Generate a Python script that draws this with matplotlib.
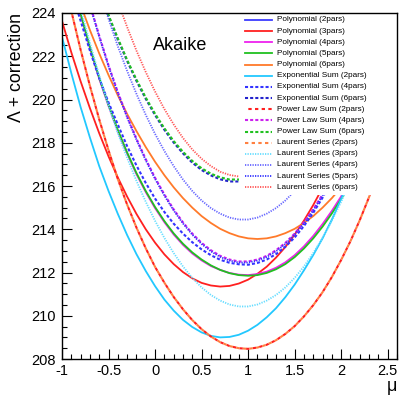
#!/usr/bin/env python3
# Akaike-corrected likelihood scan vs. signal strength mu for each background
# function family, drawn in the usual ROOT look (inward ticks, boxed legend).
import matplotlib
matplotlib.use("Agg")
import matplotlib.pyplot as plt  # noqa: E402
from matplotlib.patches import Rectangle  # noqa: E402
from matplotlib.ticker import MultipleLocator, FuncFormatter  # noqa: E402

plt.rcParams["font.family"] = ["Liberation Sans", "DejaVu Sans"]
plt.rcParams["lines.scale_dashes"] = False

# scan points (mu) shared by every curve
MU = [-1.0, -0.9, -0.8, -0.7, -0.6, -0.5, -0.4, -0.3, -0.2, -0.1,
      0.0, 0.1, 0.2, 0.3, 0.4, 0.5, 0.6, 0.7, 0.8, 0.9,
      1.0, 1.1, 1.2, 1.3, 1.4, 1.5, 1.6, 1.7, 1.8, 1.9,
      2.0, 2.1, 2.2, 2.3, 2.4]

# Lambda + correction per function family
poly3 = [223.63, 222.18, 220.84, 219.60, 218.44, 217.37, 216.39, 215.51, 214.71, 214.00,
         213.38, 212.84, 212.39, 212.02, 211.73, 211.52, 211.40, 211.35, 211.38, 211.49,
         211.67, 211.94, 212.27, 212.69, 213.18, 213.75, 214.40, 215.12, 215.92, 216.80,
         217.76, 218.79, 219.90, 221.08, 222.35]
poly4 = [227.00, 225.41, 223.92, 222.38, 220.96, 219.70, 218.54, 217.50, 216.55, 215.72,
         214.98, 214.33, 213.76, 213.28, 212.88, 212.56, 212.30, 212.12, 211.98, 211.90,
         211.88, 211.93, 212.04, 212.22, 212.47, 212.80, 213.21, 213.69, 214.24, 214.85,
         215.52, 216.30, 217.15, 218.05, 219.03]
poly5 = [227.05, 225.46, 223.97, 222.43, 221.01, 219.75, 218.59, 217.55, 216.60, 215.77,
         215.03, 214.38, 213.81, 213.33, 212.93, 212.60, 212.33, 212.12, 211.97, 211.88,
         211.85, 211.88, 211.98, 212.15, 212.39, 212.71, 213.11, 213.58, 214.12, 214.73,
         215.40, 216.18, 217.03, 217.93, 218.91]
poly6 = [226.78, 225.55, 224.38, 223.21, 222.13, 221.13, 220.19, 219.33, 218.54, 217.80,
         217.12, 216.50, 215.94, 215.44, 215.00, 214.61, 214.29, 214.02, 213.82, 213.67,
         213.58, 213.55, 213.58, 213.67, 213.82, 214.02, 214.29, 214.61, 215.00, 215.44,
         215.94, 216.50, 217.12, 217.80, 218.54]
exp2 = [222.90, 221.22, 219.65, 218.24, 216.92, 215.77, 214.71, 213.73, 212.85, 212.07,
        211.37, 210.75, 210.24, 209.81, 209.48, 209.23, 209.07, 209.00, 209.02, 209.12,
        209.31, 209.58, 209.93, 210.35, 210.86, 211.44, 212.10, 212.81, 213.58, 214.45,
        215.40, 216.47, 217.60, 218.76, 220.00]
exp4 = [226.53, 225.02, 223.64, 222.26, 220.99, 219.86, 218.84, 217.84, 216.95, 216.14,
        215.42, 214.80, 214.26, 213.80, 213.40, 213.07, 212.80, 212.59, 212.45, 212.38,
        212.36, 212.44, 212.60, 212.85, 213.19, 213.62, 214.15, 214.76, 215.46, 216.25,
        217.13, 218.11, 219.17, 220.32, 221.56]
exp6 = [230.50, 229.01, 227.60, 226.28, 225.03, 223.86, 222.78, 221.78, 220.86, 220.03,
        219.28, 218.60, 218.01, 217.51, 217.08, 216.74, 216.49, 216.31, 216.21, 216.21,
        216.28, 216.44, 216.68, 217.00, 217.40, 217.89, 218.46, 219.11, 219.84, 220.66,
        221.55, 222.53, 223.60, 224.74, 225.97]
pow2 = [226.00, 224.09, 222.30, 220.63, 219.08, 217.65, 216.32, 215.14, 214.08, 213.12,
        212.26, 211.53, 210.87, 210.30, 209.80, 209.38, 209.04, 208.78, 208.60, 208.50,
        208.47, 208.53, 208.66, 208.87, 209.16, 209.52, 209.97, 210.49, 211.09, 211.79,
        212.58, 213.45, 214.42, 215.49, 216.64]
pow4 = [229.23, 227.56, 225.98, 224.40, 222.95, 221.58, 220.34, 219.22, 218.19, 217.24,
        216.38, 215.61, 214.92, 214.32, 213.80, 213.37, 213.03, 212.77, 212.60, 212.51,
        212.51, 212.60, 212.77, 213.03, 213.37, 213.80, 214.32, 214.92, 215.61, 216.38,
        217.24, 218.19, 219.22, 220.34, 221.58]
pow6 = [230.54, 229.05, 227.64, 226.32, 225.07, 223.91, 222.83, 221.83, 220.92, 220.09,
        219.34, 218.67, 218.08, 217.58, 217.16, 216.82, 216.57, 216.40, 216.30, 216.30,
        216.37, 216.53, 216.77, 217.09, 217.49, 217.98, 218.55, 219.20, 219.93, 220.75,
        221.64, 222.62, 223.69, 224.83, 226.06]
laur2 = [226.00, 224.09, 222.30, 220.63, 219.08, 217.65, 216.32, 215.14, 214.08, 213.12,
         212.26, 211.53, 210.87, 210.30, 209.80, 209.38, 209.04, 208.78, 208.60, 208.50,
         208.47, 208.53, 208.66, 208.87, 209.16, 209.52, 209.97, 210.49, 211.09, 211.79,
         212.58, 213.45, 214.42, 215.49, 216.64]
laur3 = [227.91, 225.99, 224.20, 222.62, 221.11, 219.71, 218.44, 217.30, 216.24, 215.27,
         214.39, 213.60, 212.90, 212.28, 211.75, 211.31, 210.96, 210.70, 210.52, 210.43,
         210.43, 210.52, 210.70, 210.96, 211.31, 211.75, 212.28, 212.90, 213.60, 214.39,
         215.27, 216.24, 217.30, 218.44, 219.71]
laur4 = [231.55, 229.84, 228.22, 226.61, 225.13, 223.73, 222.46, 221.32, 220.26, 219.29,
         218.41, 217.62, 216.92, 216.30, 215.77, 215.33, 214.98, 214.72, 214.54, 214.45,
         214.45, 214.54, 214.72, 214.98, 215.33, 215.77, 216.30, 216.92, 217.62, 218.41,
         219.29, 220.26, 221.32, 222.46, 223.73]
laur5 = [229.18, 227.51, 225.93, 224.35, 222.90, 221.53, 220.29, 219.17, 218.14, 217.19,
         216.33, 215.56, 214.87, 214.27, 213.75, 213.32, 212.98, 212.72, 212.55, 212.46,
         212.46, 212.55, 212.72, 212.98, 213.32, 213.75, 214.27, 214.87, 215.56, 216.33,
         217.19, 218.14, 219.17, 220.29, 221.53]
laur6 = [233.54, 231.81, 230.17, 228.62, 227.16, 225.80, 224.52, 223.35, 222.26, 221.27,
         220.37, 219.56, 218.85, 218.22, 217.69, 217.26, 216.92, 216.66, 216.51, 216.44,
         216.47, 216.59, 216.80, 217.11, 217.51, 218.00, 218.59, 219.26, 220.03, 220.90,
         221.85, 222.90, 224.04, 225.28, 226.60]

LABELS = [
    "Polynomial (2pars)", "Polynomial (3pars)", "Polynomial (4pars)",
    "Polynomial (5pars)", "Polynomial (6pars)",
    "Exponential Sum (2pars)", "Exponential Sum (4pars)", "Exponential Sum (6pars)",
    "Power Law Sum (2pars)", "Power Law Sum (4pars)", "Power Law Sum (6pars)",
    "Laurent Series (2pars)", "Laurent Series (3pars)", "Laurent Series (4pars)",
    "Laurent Series (5pars)", "Laurent Series (6pars)",
]
# polynomial 2pars scan sits entirely above the plotted range
CURVES = [None, poly3, poly4, poly5, poly6, exp2, exp4, exp6,
          pow2, pow4, pow6, laur2, laur3, laur4, laur5, laur6]

SOLID = "-"
DASH = (0, (2.2, 1.5))
DOT = (0, (0.9, 0.9))
STYLES = [
    ("#3c3cff", SOLID, 1.3), ("#ff2020", SOLID, 1.3), ("#ee22ee", SOLID, 1.3),
    ("#20c020", SOLID, 1.3), ("#ff7a2a", SOLID, 1.3), ("#22c8ff", SOLID, 1.3),
    ("#3333ff", DASH, 1.5), ("#2222cc", DASH, 1.5),
    ("#ff2020", (2.4, (2.4, 2.4)), 1.5), ("#cc22ee", DASH, 1.5), ("#20c020", DASH, 1.5),
    ("#ff8040", (0, (2.4, 2.4)), 1.5), ("#66ddff", DOT, 1.3), ("#6666ff", DOT, 1.3),
    ("#3333ff", DOT, 1.3), ("#ff5555", DOT, 1.3),
]

fig = plt.figure(figsize=(4.0, 3.95), dpi=100)
ax = fig.add_axes([0.155, 0.0911, 0.8375, 0.876])

for ys, (col, ls, lw) in zip(CURVES, STYLES):
    if ys is None:
        continue
    ax.plot(MU, ys, color=col, linestyle=ls, linewidth=lw)

ax.set_xlim(-1, 2.6)
ax.set_ylim(208, 224)

fmt = FuncFormatter(lambda v, p: f"{v:g}")
ax.xaxis.set_major_locator(MultipleLocator(0.5))
ax.xaxis.set_minor_locator(MultipleLocator(0.1))
ax.yaxis.set_major_locator(MultipleLocator(2))
ax.yaxis.set_minor_locator(MultipleLocator(0.5))
ax.xaxis.set_major_formatter(fmt)
ax.yaxis.set_major_formatter(fmt)
ax.tick_params(which="both", direction="in", top=False, right=False, width=0.8,
               labelsize=10.5)
ax.tick_params(which="major", length=7)
ax.tick_params(which="minor", length=3.6)
ax.tick_params(axis="y", pad=4.5)
ax.tick_params(axis="x", pad=3.5)
for sp in ax.spines.values():
    sp.set_linewidth(1.0)
    sp.set_zorder(10)

ax.set_ylabel("\u039b + correction", fontsize=12.8, loc="top")
ax.yaxis.set_label_coords(-0.11, 1.0)
ax.set_xlabel("\u03bc", fontsize=12.8, loc="right")
ax.xaxis.set_label_coords(1.0, -0.055)

ax.text(0.272, 0.893, "Akaike", transform=ax.transAxes, fontsize=13,
        ha="left", va="baseline")

# opaque legend box in the top-right corner, ROOT style
ax.add_patch(Rectangle((0.528, 0.474), 0.472, 0.526, transform=ax.transAxes,
                       facecolor="white", edgecolor="none", zorder=5))
for i, (label, (col, ls, lw)) in enumerate(zip(LABELS, STYLES)):
    y = (359 - (20 + i * 11.15)) / 346
    ax.plot([0.546, 0.627], [y, y], transform=ax.transAxes, color=col,
            linestyle=ls, linewidth=lw, clip_on=False, zorder=6)
    ax.text(0.642, y, label, transform=ax.transAxes, fontsize=5.9,
            va="center", ha="left", zorder=7)

fig.savefig("out.png", dpi=100)
